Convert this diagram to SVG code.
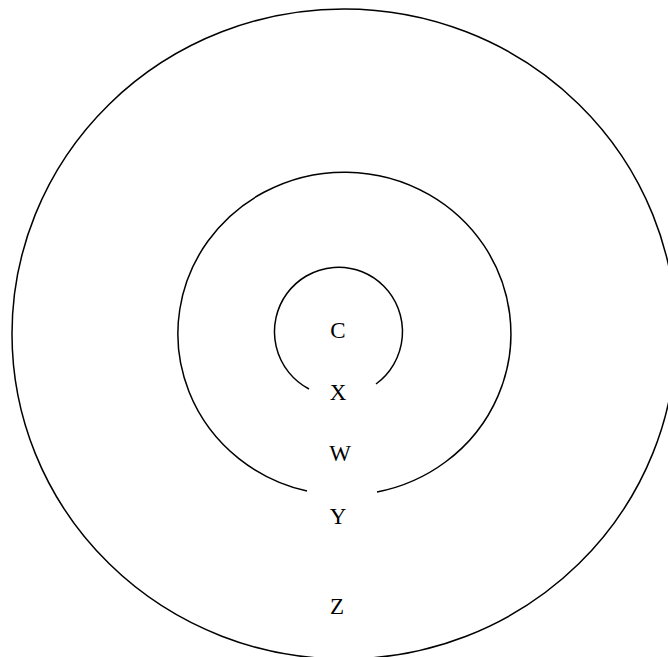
<svg xmlns="http://www.w3.org/2000/svg" width="668" height="657" viewBox="0 0 668 657">
<style>
.ring{fill:none;stroke:#000;stroke-width:1.5}
.lbl{font-family:"Liberation Serif","Times New Roman",serif;font-size:23px;fill:#000;text-anchor:middle}
</style>
<rect width="668" height="657" fill="#fff"/>
<g id="connectors"></g>
<g id="Z">
<ellipse class="ring" cx="344" cy="334" rx="332" ry="325"/>
<text class="lbl" x="337" y="614">Z</text>
</g>
<g id="Y">
<path class="ring" d="M307,491 A166.5,161.5 0 1 1 377,492"/>
<text class="lbl" x="338" y="524">Y</text>
</g>
<g id="W">
<text class="lbl" x="340" y="461">W</text>
</g>
<g id="X">
<path class="ring" d="M309,389 A64,64.5 0 1 1 376,384"/>
<text class="lbl" x="338" y="400">X</text>
</g>
<g id="C">
<text class="lbl" x="338" y="338">C</text>
</g>
</svg>
